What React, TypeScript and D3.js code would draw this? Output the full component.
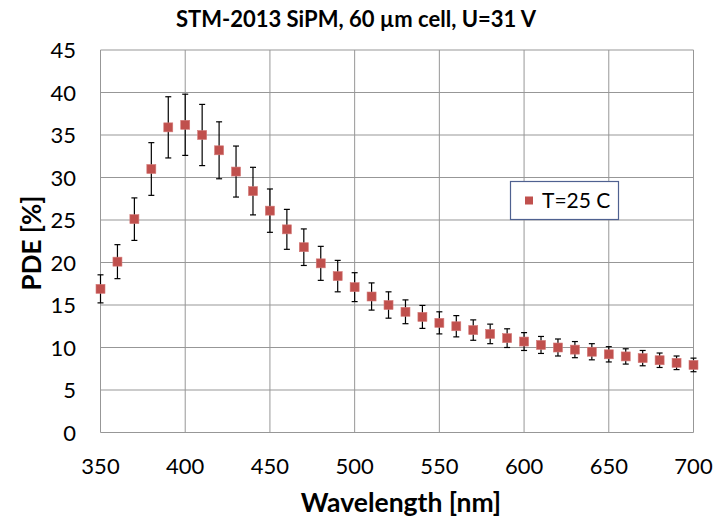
import React from 'react';
import * as d3 from 'd3';

const WAVELENGTHS = [350, 360, 370, 380, 390, 400, 410, 420, 430, 440, 450, 460, 470, 480, 490, 500, 510, 520, 530, 540, 550, 560, 570, 580, 590, 600, 610, 620, 630, 640, 650, 660, 670, 680, 690, 700];
const PDE = [16.9, 20.1, 25.1, 31.0, 35.9, 36.2, 35.0, 33.2, 30.7, 28.4, 26.1, 23.9, 21.8, 19.9, 18.4, 17.1, 16.0, 15.0, 14.2, 13.6, 12.9, 12.5, 12.05, 11.6, 11.1, 10.7, 10.3, 10.0, 9.75, 9.5, 9.2, 8.95, 8.75, 8.5, 8.2, 7.95];
const PDE_ERR = [1.65, 2.0, 2.5, 3.1, 3.6, 3.6, 3.6, 3.35, 3.0, 2.8, 2.55, 2.35, 2.15, 2.0, 1.85, 1.7, 1.6, 1.55, 1.4, 1.35, 1.3, 1.25, 1.2, 1.15, 1.1, 1.05, 1.0, 1.0, 0.95, 0.95, 0.9, 0.9, 0.9, 0.85, 0.8, 0.8];
const X_TICKS = [350, 400, 450, 500, 550, 600, 650, 700];
const Y_TICKS = [0, 5, 10, 15, 20, 25, 30, 35, 40, 45];
const SERIES_NAME = 'T=25 C';

const WIDTH = 714;
const HEIGHT = 519;
const FONT = 'Lato, Carlito, Calibri, sans-serif';
const GRID = '#979797';
const RED = '#c0504d';

const xScale = d3.scaleLinear().domain([350, 700]).range([100.5, 693.5]);
const yScale = d3.scaleLinear().domain([0, 45]).range([432.5, 50]);

const App = () => {
  const points = WAVELENGTHS.map((w, i) => ({w, v: PDE[i], e: PDE_ERR[i]}));
  const [x0, x1] = xScale.range();
  const [y0, y1] = yScale.range();

  return (
    <svg width={WIDTH} height={HEIGHT} style={{position: 'absolute', left: 0, top: 0}} fontFamily={FONT}>
      <rect width={WIDTH} height={HEIGHT} fill="#fff" />

      {/* grid */}
      {Y_TICKS.map((t) => (
        <line key={'gy' + t} x1={x0} x2={x1} y1={yScale(t)} y2={yScale(t)} stroke={GRID} strokeWidth={1} />
      ))}
      {X_TICKS.map((t) => (
        <line key={'gx' + t} x1={xScale(t)} x2={xScale(t)} y1={y1} y2={y0} stroke={GRID} strokeWidth={1} />
      ))}

      {/* tick labels */}
      {Y_TICKS.map((t) => (
        <text key={'ly' + t} x={76} y={yScale(t) + 8} textAnchor="end" fontSize={22} fill="#000">{t}</text>
      ))}
      {X_TICKS.map((t) => (
        <text key={'lx' + t} x={xScale(t)} y={474} textAnchor="middle" fontSize={22} fill="#000">{t}</text>
      ))}

      {/* error bars */}
      {points.map((p) => {
        const cx = xScale(p.w);
        const top = yScale(p.v + p.e);
        const bot = yScale(p.v - p.e);
        return (
          <g key={'e' + p.w} stroke="#000" strokeWidth={1.2}>
            <line x1={cx} x2={cx} y1={top} y2={bot} />
            <line x1={cx - 3} x2={cx + 3} y1={top} y2={top} />
            <line x1={cx - 3} x2={cx + 3} y1={bot} y2={bot} />
          </g>
        );
      })}

      {/* markers */}
      {points.map((p) => (
        <rect key={'m' + p.w} x={xScale(p.w) - 4.5} y={yScale(p.v) - 4.5} width={9} height={9} fill={RED} stroke="#d47a78" strokeWidth={0.6} />
      ))}

      {/* legend */}
      <rect x={510.5} y={181.5} width={108} height={38} fill="#fff" stroke="#4f6190" strokeWidth={1.2} />
      <rect x={525} y={196.5} width={8} height={8} fill={RED} />
      <text x={542} y={208} fontSize={21} fill="#000">{SERIES_NAME}</text>

      {/* titles */}
      <text x={356} y={27} textAnchor="middle" fontSize={22} fontWeight="bold" fill="#000">STM-2013 SiPM, 60 µm cell, U=31 V</text>
      <text x={401} y={512} textAnchor="middle" fontSize={26.5} fontWeight="bold" fill="#000">Wavelength [nm]</text>
      <text transform="translate(41,243) rotate(-90)" textAnchor="middle" fontSize={26} fontWeight="bold" fill="#000">PDE [%]</text>
    </svg>
  );
};

export default App;
